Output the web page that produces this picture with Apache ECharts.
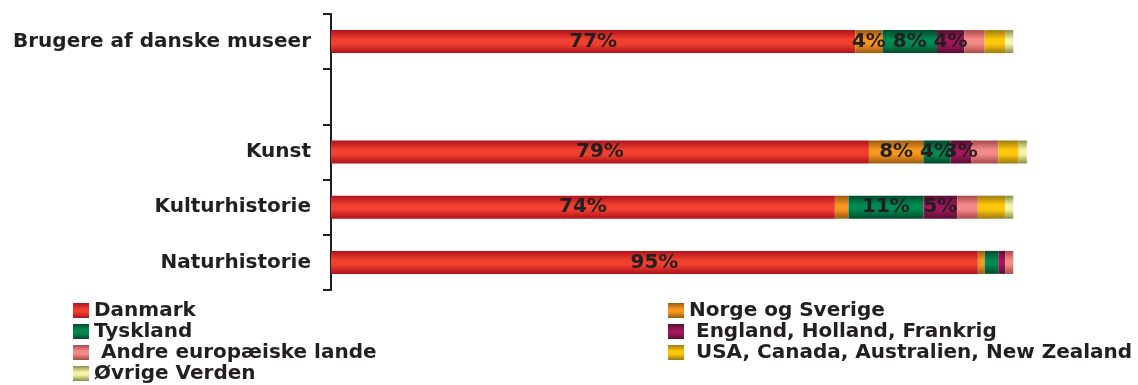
<!DOCTYPE html>
<html>
<head>
<meta charset="utf-8">
<script src="https://cdn.jsdelivr.net/npm/echarts@6/dist/echarts.min.js"></script>
<style>
  html, body { margin: 0; padding: 0; background: #fff; }
  #chart { width: 1138px; height: 385px; }
</style>
</head>
<body>
<div id="chart"></div>
<script>
// kategorier (tom plads mellem "Brugere" og "Kunst")
const categories = ['Brugere af danske museer', '', 'Kunst', 'Kulturhistorie', 'Naturhistorie'];

const danmark = [77, null, 79, 74, 95];
const norgeSverige = [4, null, 8, 2, 1];
const tyskland = [8, null, 4, 11, 2];
const england = [4, null, 3, 5, 1];
const andreEuropa = [3, null, 4, 3, 1.2];
const usaCanada = [3, null, 3, 4, 0];
const ovrige = [1.2, null, 1.2, 1.2, 0];

const seriesNames = [
  'Danmark',
  'Norge og Sverige',
  'Tyskland',
  ' England, Holland, Frankrig',
  ' Andre europæiske lande',
  ' USA, Canada, Australien, New Zealand',
  'Øvrige Verden'
];
const seriesData = [danmark, norgeSverige, tyskland, england, andreEuropa, usaCanada, ovrige];

// [mørk kant, lys midte]
const palette = [
  ['#b0121b', '#f04030'],
  ['#9a5a10', '#f8961e'],
  ['#004a2a', '#008a52'],
  ['#561030', '#a4165c'],
  ['#a84848', '#f48a88'],
  ['#9c7a10', '#ffc80a'],
  ['#8c8c48', '#f4f4a8']
];

const font = 'DejaVu Sans';
const ink = '#231f20';

function grad(c) {
  return new echarts.graphic.LinearGradient(0, 0, 0, 1, [
    { offset: 0, color: c[0] },
    { offset: 0.4, color: c[1] },
    { offset: 0.6, color: c[1] },
    { offset: 1, color: c[0] }
  ]);
}

const series = seriesNames.map((name, i) => ({
  name: name,
  type: 'bar',
  stack: 'total',
  barWidth: 23,
  data: seriesData[i],
  itemStyle: { color: grad(palette[i]) },
  label: {
    show: i < 4,
    position: 'inside',
    color: ink,
    fontFamily: font,
    fontWeight: 'bold',
    fontSize: 20,
    formatter: function (p) {
      return p.value >= 3 ? Math.round(p.value) + '%' : '';
    }
  }
}));

const legendText = {
  color: ink,
  fontFamily: font,
  fontWeight: 'bold',
  fontSize: 20,
  lineHeight: 21
};

const legendBase = {
  orient: 'vertical',
  top: 300,
  bottom: 0,
  padding: 0,
  icon: 'rect',
  itemWidth: 16,
  itemHeight: 15,
  itemGap: 0,
  textStyle: legendText
};

const chart = echarts.init(document.getElementById('chart'));
chart.setOption({
  animation: false,
  grid: { left: 331, right: 58, top: 14, bottom: 95 },
  legend: [
    Object.assign({}, legendBase, {
      data: [seriesNames[0], seriesNames[2], seriesNames[4], seriesNames[6]],
      left: 73
    }),
    Object.assign({}, legendBase, {
      data: [seriesNames[1], seriesNames[3], seriesNames[5]],
      left: 668
    })
  ],
  xAxis: {
    type: 'value',
    min: 0,
    max: 110,
    show: false
  },
  yAxis: {
    type: 'category',
    inverse: true,
    data: categories,
    axisLine: { show: true, lineStyle: { color: ink, width: 2 } },
    axisTick: { show: true, length: 8, lineStyle: { color: ink, width: 2 } },
    axisLabel: {
      margin: 20,
      color: ink,
      fontFamily: font,
      fontWeight: 'bold',
      fontSize: 20
    }
  },
  series: series
});
</script>
</body>
</html>
